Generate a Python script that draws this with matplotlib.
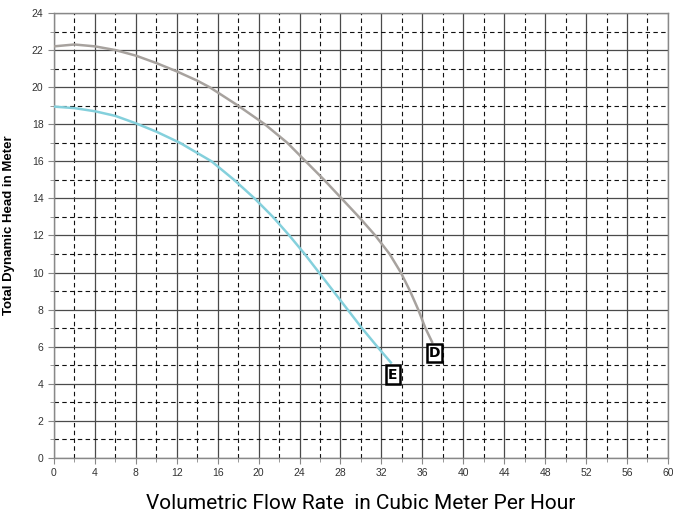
import matplotlib
matplotlib.use("Agg")
import matplotlib.pyplot as plt

# Curve D (gray)
d_flow = [0, 2, 4, 6, 8, 10, 12, 14, 15.2, 18, 20.6, 22.8, 24.6, 26.4, 28.1, 29.8, 31.4, 32.8, 33.9, 34.8, 35.6, 36.3, 37.0]
d_head = [22.2, 22.3, 22.2, 22.0, 21.7, 21.3, 20.85, 20.35, 20.0, 19.0, 18.0, 17.0, 16.0, 15.0, 14.0, 13.0, 12.0, 11.0, 10.0, 9.0, 8.0, 7.0, 6.2]

# Curve E (cyan)
e_flow = [0, 2, 4, 6, 8, 10, 12.3, 15.4, 17.6, 19.6, 21.4, 23.0, 24.5, 25.9, 27.3, 28.7, 30.1, 31.6, 33.0]
e_head = [18.95, 18.87, 18.7, 18.45, 18.05, 17.6, 17.0, 16.0, 15.0, 14.0, 13.0, 12.0, 11.0, 10.0, 9.0, 8.0, 7.0, 6.0, 5.1]

labels = ["D", "E"]
label_pos = [(37.2, 5.65), (33.1, 4.5)]

x_ticks = list(range(0, 61, 4))
y_ticks = list(range(0, 25, 2))

fig = plt.figure(figsize=(6.73, 5.17), dpi=100)
ax = fig.add_axes([0.0802, 0.1141, 0.9123, 0.8608])

ax.set_xlim(0, 60)
ax.set_ylim(0, 24)
ax.set_xticks(x_ticks)
ax.set_yticks(y_ticks)
ax.set_xticks(list(range(2, 60, 4)), minor=True)
ax.set_yticks(list(range(1, 24, 2)), minor=True)

ax.grid(which="major", color="#4a4a4a", linestyle="-", linewidth=0.9)
ax.grid(which="minor", color="#111111", linestyle=(0, (4, 3)), linewidth=0.8)
ax.set_axisbelow(True)

for s in ax.spines.values():
    s.set_color("#888888")
    s.set_linewidth(1.0)

ax.tick_params(which="both", direction="out", length=4, color="#888888",
               labelsize=7.5, labelcolor="#333333")
ax.tick_params(which="minor", length=3)
for lbl in ax.get_xticklabels() + ax.get_yticklabels():
    lbl.set_family("Liberation Sans")

ax.plot(d_flow, d_head, color="#a7a29e", linewidth=1.8, solid_capstyle="butt",
        solid_joinstyle="round", zorder=3)
ax.plot(e_flow, e_head, color="#84d0dc", linewidth=1.8, solid_capstyle="butt",
        solid_joinstyle="round", zorder=3)

for lab, (x, y) in zip(labels, label_pos):
    ax.text(x, y, lab, ha="center", va="center", fontsize=10, fontweight="bold",
            family="DejaVu Sans",
            bbox=dict(boxstyle="square,pad=0.15", facecolor="white", edgecolor="black", linewidth=1.8),
            zorder=5)

ax.set_ylabel("Total Dynamic Head in Meter", fontsize=9.5, fontweight="bold",
              family="Liberation Sans")
ax.yaxis.set_label_coords(-0.064, 0.524)
ax.set_xlabel("Volumetric Flow Rate  in Cubic Meter Per Hour", fontsize=15, labelpad=11,
              family="Roboto")

fig.savefig("out.png", dpi=100)
